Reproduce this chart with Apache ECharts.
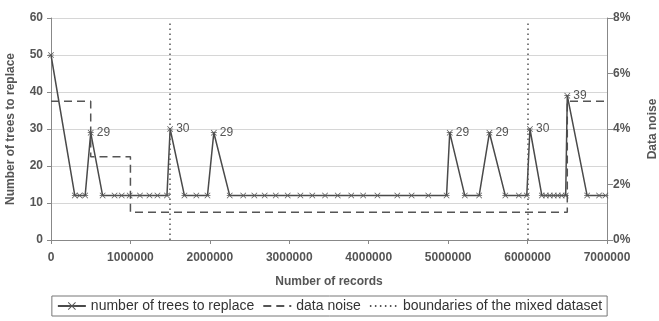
<!DOCTYPE html>
<html>
<head>
<meta charset="utf-8">
<script src="https://cdn.jsdelivr.net/npm/echarts@6/dist/echarts.min.js"></script>
<style>
  html, body { margin: 0; padding: 0; background: #fff; }
  #chart { width: 659px; height: 321px; }
</style>
</head>
<body>
<div id="chart"></div>
<script>
// number of trees to replace, sampled along the stream
var recordsX = [0, 300000, 360000, 430000, 500000,
  650000, 800000, 890000, 990000, 1120000, 1240000, 1340000, 1460000, 1500000,
  1680000, 1830000, 1970000, 2050000,
  2250000, 2420000, 2560000, 2690000, 2830000, 2980000, 3140000, 3290000, 3450000,
  3610000, 3780000, 3930000, 4110000, 4360000, 4540000, 4750000, 4980000, 5020000,
  5210000, 5390000, 5520000,
  5720000, 5890000, 5990000, 6030000,
  6180000, 6230000, 6280000, 6330000, 6380000, 6430000, 6480000, 6500000,
  6750000, 6900000, 6980000];
var treesY = [50, 12, 12, 12, 29,
  12, 12, 12, 12, 12, 12, 12, 12, 30,
  12, 12, 12, 29,
  12, 12, 12, 12, 12, 12, 12, 12, 12,
  12, 12, 12, 12, 12, 12, 12, 12, 29,
  12, 12, 29,
  12, 12, 12, 30,
  12, 12, 12, 12, 12, 12, 12, 39,
  12, 12, 12];

// data noise in percent (step line)
var noiseX = [0, 500000, 500000, 1000000, 1000000, 6500000, 6500000, 7000000];
var noiseY = [5, 5, 3, 3, 1, 1, 5, 5];

// boundaries of the mixed dataset
var boundaries = [1500000, 6000000];

var leftTicks = [0, 60, 10];
var rightTicks = [0, 8, 2];
var xTicks = [0, 7000000, 1000000];

var asterisk = 'path://M0,4.4 L10,4.4 L10,5.6 L0,5.6 Z M0.8,0 L10,9.2 L9.2,10 L0,0.8 Z M9.2,0 L10,0.8 L0.8,10 L0,9.2 Z';

var font = '"Liberation Sans", Arial, sans-serif';
var axisText = { color: '#555', fontWeight: 'bold', fontSize: 12, fontFamily: font };

var trees = recordsX.map(function (x, i) { return [x, treesY[i]]; });
var noise = noiseX.map(function (x, i) { return [x, noiseY[i]]; });

var chart = echarts.init(document.getElementById('chart'), null, { renderer: 'canvas' });
chart.setOption({
  animation: false,
  backgroundColor: '#fff',
  grid: { left: 51, right: 52, top: 18, bottom: 81, containLabel: false, outerBoundsMode: 'none' },
  legend: {
    bottom: 5,
    left: 'center',
    itemWidth: 28,
    itemHeight: 10,
    itemGap: 8,
    padding: [3, 5, 3, 5],
    borderColor: '#777',
    borderWidth: 1,
    borderRadius: 0,
    textStyle: { color: '#333', fontSize: 14, fontFamily: font },
    data: [
      { name: 'number of trees to replace' },
      { name: 'data noise', itemStyle: { opacity: 0 } },
      { name: 'boundaries of the mixed dataset', itemStyle: { opacity: 0 } }
    ]
  },
  xAxis: {
    type: 'value',
    min: xTicks[0], max: xTicks[1], interval: xTicks[2],
    name: 'Number of records',
    nameLocation: 'middle',
    nameGap: 36,
    nameTextStyle: axisText,
    axisLine: { lineStyle: { color: '#888' } },
    axisTick: { show: true, length: 4, lineStyle: { color: '#888' } },
    axisLabel: Object.assign({ margin: 12, formatter: function (v) { return String(v); } }, axisText),
    splitLine: { show: false }
  },
  yAxis: [{
    type: 'value',
    min: leftTicks[0], max: leftTicks[1], interval: leftTicks[2],
    name: 'Number of trees to replace',
    nameLocation: 'middle',
    nameRotate: 90,
    nameGap: 34,
    nameTextStyle: axisText,
    axisLine: { show: true, lineStyle: { color: '#888' } },
    axisTick: { show: true, length: 4, lineStyle: { color: '#888' } },
    axisLabel: Object.assign({ margin: 8 }, axisText),
    splitLine: { show: true, lineStyle: { color: '#d6d6d6', width: 1 } }
  }, {
    type: 'value',
    position: 'right',
    min: rightTicks[0], max: rightTicks[1], interval: rightTicks[2],
    name: 'Data noise',
    nameLocation: 'middle',
    nameRotate: 90,
    nameGap: 40,
    nameTextStyle: axisText,
    axisLine: { show: true, lineStyle: { color: '#888' } },
    axisTick: { show: true, length: 6, lineStyle: { color: '#888' } },
    axisLabel: Object.assign({ margin: 6, formatter: '{value}%' }, axisText),
    splitLine: { show: false }
  }],
  series: [{
    name: 'number of trees to replace',
    type: 'line',
    data: trees,
    symbol: asterisk,
    symbolSize: 6,
    showAllSymbol: true,
    lineStyle: { color: '#4a4a4a', width: 1.5 },
    itemStyle: { color: '#555' },
    label: {
      show: true,
      position: 'right',
      distance: 3,
      color: '#555',
      fontSize: 12,
      fontFamily: font,
      formatter: function (p) { return p.value[1] > 20 && p.value[0] > 0 ? p.value[1] : ''; }
    },
    z: 3
  }, {
    name: 'data noise',
    type: 'line',
    yAxisIndex: 1,
    data: noise,
    symbol: 'none',
    lineStyle: { color: '#555', width: 1.5, type: [8, 5] },
    itemStyle: { color: '#555' },
    z: 2
  }, {
    name: 'boundaries of the mixed dataset',
    type: 'line',
    data: [],
    symbol: 'none',
    lineStyle: { color: '#555', width: 1.5, type: [1.5, 3.5] },
    itemStyle: { color: '#555' },
    markLine: {
      silent: true,
      symbol: ['none', 'none'],
      label: { show: false },
      lineStyle: { color: '#555', width: 1.5, type: [1.5, 3.5] },
      data: boundaries.map(function (b) {
        return [{ coord: [b, 0] }, { coord: [b, 59] }];
      })
    },
    z: 1
  }]
});
</script>
</body>
</html>
